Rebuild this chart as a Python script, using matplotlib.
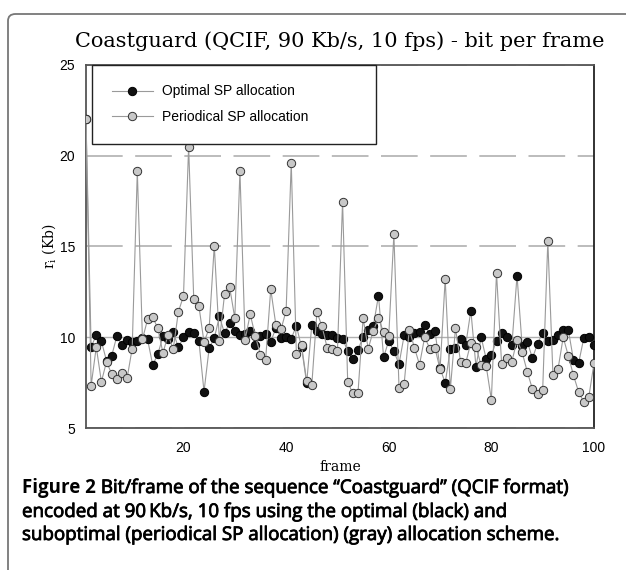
import numpy as np
import matplotlib
matplotlib.use("Agg")
import matplotlib.pyplot as plt
import matplotlib.patheffects as pe
from matplotlib.patches import FancyBboxPatch

# bits per frame (Kb), frames 1..100
frames = np.arange(1, 101)
optimal = [22.0, 9.45, 10.13, 9.78, 8.7, 8.97, 10.05, 9.57, 9.86, 9.75,
           9.77, 9.97, 9.88, 8.47, 9.07, 10.05, 9.9, 10.28, 9.44, 10.0,
           10.3, 10.23, 9.8, 7.0, 9.4, 9.95, 11.15, 10.21, 10.81, 10.37,
           10.15, 10.2, 10.37, 9.55, 10.05, 10.2, 9.75, 10.5, 9.96, 10.0,
           9.93, 10.63, 9.46, 7.47, 10.67, 10.35, 10.2, 10.11, 10.11, 9.95,
           9.93, 9.23, 8.8, 9.29, 10.04, 10.41, 10.62, 12.3, 8.89, 9.82,
           9.22, 8.52, 10.1, 10.0, 10.25, 10.3, 10.7, 10.17, 10.36, 8.3,
           7.48, 9.34, 9.4, 9.89, 9.58, 11.47, 8.38, 10.0, 8.8, 9.0,
           9.82, 10.26, 10.0, 9.58, 13.4, 9.5, 9.76, 8.84, 9.65, 10.26,
           9.82, 9.85, 10.13, 10.4, 10.4, 8.75, 8.57, 9.94, 10.04, 9.58]
periodical = [22.0, 7.33, 9.46, 7.55, 8.65, 7.98, 7.68, 8.05, 7.73, 9.38,
              19.16, 9.89, 10.98, 11.11, 10.49, 9.13, 10.14, 9.34, 11.4, 12.27,
              20.5, 12.08, 11.72, 9.73, 10.49, 15.05, 9.79, 12.37, 12.75, 11.05,
              19.16, 9.86, 11.27, 10.07, 9.04, 8.74, 12.65, 10.69, 10.43, 11.46,
              19.61, 9.07, 9.55, 7.6, 7.35, 11.39, 10.6, 9.42, 9.34, 9.22,
              17.47, 7.53, 6.91, 6.91, 11.04, 9.37, 10.37, 11.04, 10.28, 10.07,
              15.67, 7.23, 7.44, 10.42, 9.43, 8.49, 10.01, 9.37, 9.42, 8.23,
              13.22, 7.13, 10.49, 8.66, 8.57, 9.71, 9.49, 8.45, 8.4, 6.55,
              13.56, 8.51, 8.88, 8.66, 9.85, 9.16, 8.1, 7.14, 6.86, 7.1,
              15.3, 7.92, 8.27, 10.0, 8.97, 7.9, 6.99, 6.44, 6.73, 8.57]
labels = ["Optimal SP allocation", "Periodical SP allocation"]
xticks = [20, 40, 60, 80, 100]
yticks = [5, 10, 15, 20, 25]

W, H = 626, 570
fig = plt.figure(figsize=(W / 100, H / 100), dpi=100)

# rounded frame around the figure
frame = FancyBboxPatch((8 / W, -0.2), 1.2, 1.2 - 14 / H,
                       boxstyle="round,pad=0,rounding_size=0.012",
                       transform=fig.transFigure, fill=False,
                       edgecolor="#777777", linewidth=1.3)
fig.patches.append(frame)

ax = fig.add_axes([86 / W, 1 - 428 / H, 508 / W, 363 / H])

ax.plot(frames, optimal, "-o", color="#9a9a9a", lw=0.8, ms=6,
        mfc="#111111", mec="#000000", mew=0.7, label=labels[0], zorder=3)
ax.plot(frames, periodical, "-o", color="#9a9a9a", lw=0.8, ms=6,
        mfc="#c8c8c8", mec="#333333", mew=0.7, label=labels[1], zorder=4)

ax.set_xlim(1, 100)
ax.set_ylim(5, 25)
ax.set_xticks(xticks)
ax.set_yticks(yticks)
ax.tick_params(length=0, labelsize=10, pad=9)
ax.tick_params(axis="y", pad=8)
for lab in ax.get_xticklabels() + ax.get_yticklabels():
    lab.set_family("Liberation Sans")

ax.yaxis.grid(True, color="#b0b0b0", lw=1.2, linestyle=(0, (22, 7.5)))
for val, gl in zip(yticks, ax.get_ygridlines()):
    if val == 10:
        gl.set_linestyle("-")
        gl.set_linewidth(1.0)
ax.set_axisbelow(True)

for s in ax.spines.values():
    s.set_color("#555555")
    s.set_linewidth(1.3)
ax.spines["right"].set_color("#222222")

ax.set_title("Coastguard (QCIF, 90 Kb/s, 10 fps) - bit per frame",
             family="DejaVu Serif", fontsize=15, pad=13)
ax.set_xlabel("frame", family="DejaVu Serif", fontsize=10, labelpad=4)
ax.set_ylabel(r"r$_\mathregular{i}$ (Kb)", family="DejaVu Serif", fontsize=10,
              labelpad=1)

leg = ax.legend(loc="upper left", bbox_to_anchor=(0.012, 0.0, 0.559, 1.0),
                mode="expand", fancybox=False, framealpha=1, edgecolor="#222222",
                prop={"family": "Liberation Sans", "size": 10},
                borderpad=1.4, labelspacing=0.85, handlelength=3.0,
                handletextpad=0.6, borderaxespad=0)
leg.get_frame().set_linewidth(1.0)

# caption (semibold look via a thin stroke)
renderer = fig.canvas.get_renderer()
cap_font = ["Open Sans", "DejaVu Sans"]
cap_size = 13.5
semi = [pe.withStroke(linewidth=0.6, foreground="black")]
x0 = 22 / W
t = fig.text(x0, 1 - 488 / H, "Figure 2", family=cap_font, weight="bold",
             fontsize=cap_size, va="center")
bb = t.get_window_extent(renderer)
fig.text(bb.x1 / W + 5 / W, 1 - 488 / H,
         "Bit/frame of the sequence \u201cCoastguard\u201d (QCIF format)",
         family=cap_font, fontsize=cap_size, va="center", path_effects=semi)
fig.text(x0, 1 - 512 / H,
         "encoded at 90\u2009Kb/s, 10 fps using the optimal (black) and",
         family=cap_font, fontsize=cap_size, va="center", path_effects=semi)
fig.text(x0, 1 - 535 / H,
         "suboptimal (periodical SP allocation) (gray) allocation scheme.",
         family=cap_font, fontsize=cap_size, va="center", path_effects=semi)

fig.savefig("out.png", dpi=100)
